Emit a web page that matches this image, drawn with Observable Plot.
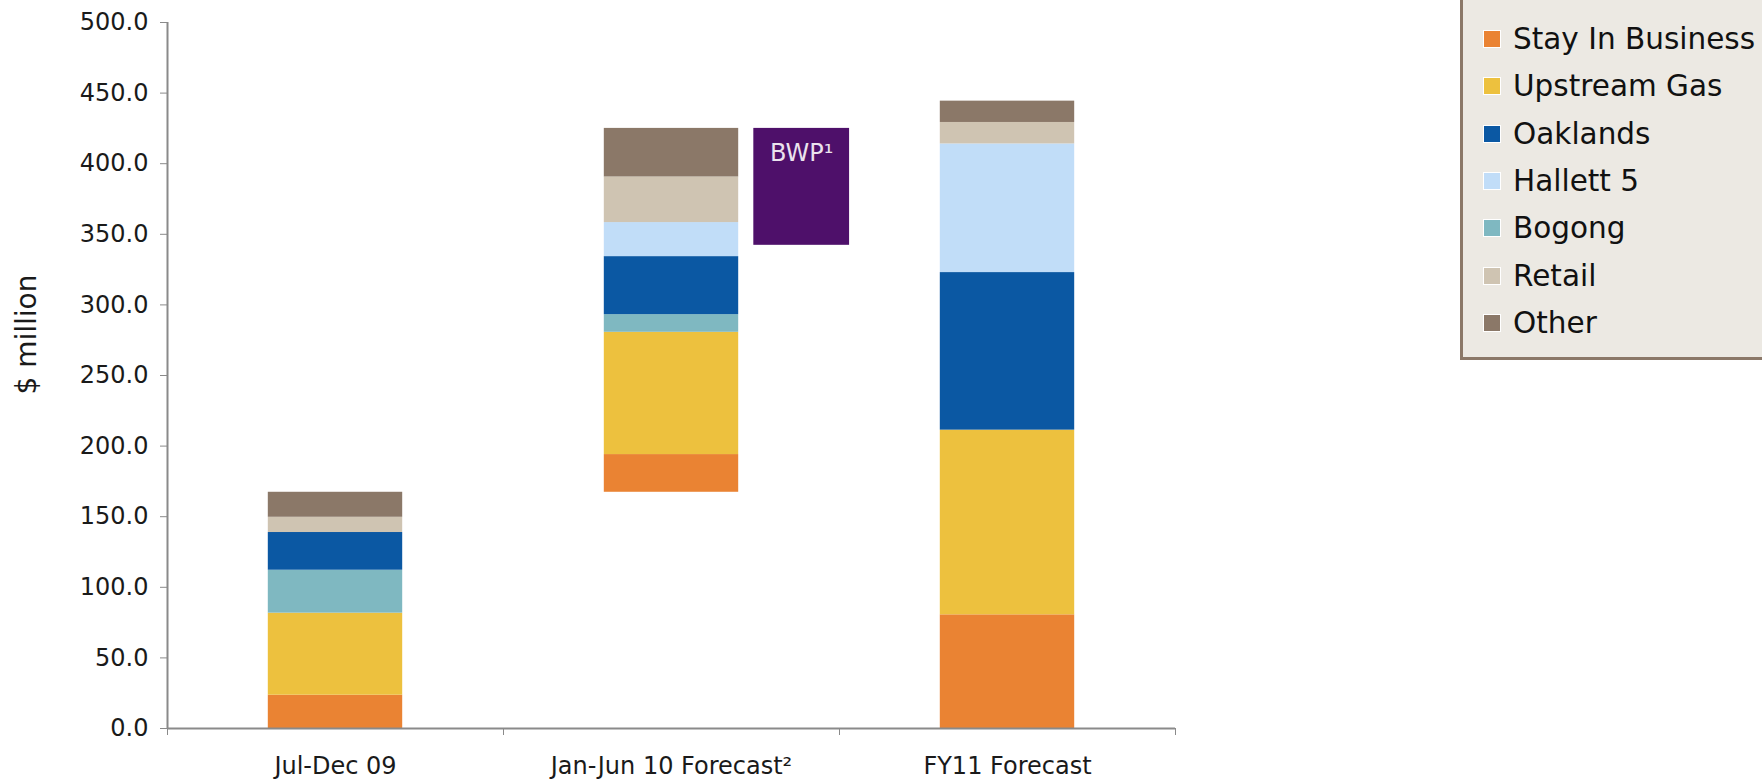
<!DOCTYPE html>
<html>
<head>
<meta charset="utf-8">
<script src="https://cdn.jsdelivr.net/npm/d3@7"></script>
<script src="https://cdn.jsdelivr.net/npm/@observablehq/plot@0.6"></script>
<style>
  html, body { margin: 0; padding: 0; background: #ffffff; }
  #wrap { position: relative; width: 1762px; height: 782px; overflow: hidden; font-family: "DejaVu Sans", sans-serif; }
  #legend {
    position: absolute; left: 1460px; top: -10px; width: 330px; height: 370px;
    background: #ece9e3; border: 3px solid #8b7868; box-sizing: border-box;
  }
  .item { position: absolute; left: 20px; height: 30px; display: flex; align-items: center; font-size: 29.5px; color: #111; white-space: nowrap; }
  .sw { width: 18px; height: 18px; margin-right: 12px; border: 1px solid #fff; box-sizing: border-box; }
</style>
</head>
<body>
<div id="wrap"><div id="chart"></div><div id="legend"></div></div>
<script>
// ---- data ----
const categories = ["Jul-Dec 09", "Jan-Jun 10 Forecast\u00B2", "FY11 Forecast"];
const stackOrder = ["Stay In Business", "Upstream Gas", "Bogong", "Oaklands", "Hallett 5", "Retail", "Other"];
const legendOrder = ["Stay In Business", "Upstream Gas", "Oaklands", "Hallett 5", "Bogong", "Retail", "Other"];
const stayInBusiness = [23.6, 26.7, 80.5];
const upstreamGas    = [58.1, 86.6, 130.8];
const bogong         = [30.4, 12.5, 0];
const oaklands       = [26.7, 41.1, 111.6];
const hallett5       = [0, 24.1, 91.1];
const retail         = [10.8, 32.3, 15.2];
const other          = [17.7, 34.4, 15.1];
const bwpLabel = "BWP\u00B9";
const bwpValue = 82.8;          // reduction shown next to the Jan-Jun 10 bar
const yTicks = [0, 50, 100, 150, 200, 250, 300, 350, 400, 450, 500];

const seriesValues = {
  "Stay In Business": stayInBusiness, "Upstream Gas": upstreamGas, "Bogong": bogong,
  "Oaklands": oaklands, "Hallett 5": hallett5, "Retail": retail, "Other": other
};
const colors = {
  "Stay In Business": "#ea8333", "Upstream Gas": "#edc13e", "Oaklands": "#0b58a3",
  "Hallett 5": "#c1ddf8", "Bogong": "#7fb8c1", "Retail": "#cfc4b2", "Other": "#8b7868"
};

// ---- build waterfall-stacked rows ----
const barW = 0.4;               // fraction of each category slot
const rows = [];
const tops = [];
categories.forEach((c, i) => {
  // second column continues from the end of the first (waterfall)
  let y = i === 1 ? tops[0] : 0;
  for (const s of stackOrder) {
    const v = seriesValues[s][i];
    if (v > 0) rows.push({cat: c, series: s, x1: i + (1 - barW) / 2, x2: i + (1 + barW) / 2, y1: y, y2: y + v});
    y += v;
  }
  tops.push(y);
});
const bwpRow = {x1: 1.745, x2: 2.03, y1: tops[1] - bwpValue, y2: tops[1]};

const plot = Plot.plot({
  width: 1762, height: 782,
  marginLeft: 167, marginRight: 587, marginTop: 22, marginBottom: 54,
  style: {fontFamily: "DejaVu Sans, sans-serif", fontSize: "24px", color: "#1a1a1a", background: "transparent"},
  x: {type: "linear", domain: [0, categories.length]},
  y: {domain: [0, 500]},
  marks: [
    Plot.rect(rows, {x1: "x1", x2: "x2", y1: "y1", y2: "y2", fill: d => colors[d.series]}),
    Plot.rect([bwpRow], {x1: "x1", x2: "x2", y1: "y1", y2: "y2", fill: "#4e106a"}),
    Plot.text([bwpRow], {x: d => (d.x1 + d.x2) / 2, y: "y2", text: () => bwpLabel, dy: 25, fill: "#ebe3ee", fontSize: 24}),
    Plot.axisY({ticks: yTicks, tickFormat: d3.format(".1f"), tickSize: 7, tickPadding: 12, stroke: "#8a8a8a", fill: "#1a1a1a", fontSize: 24, label: null}),
    Plot.axisX({ticks: d3.range(categories.length + 1), tickFormat: () => "", tickSize: 7, stroke: "#8a8a8a", label: null}),
    Plot.axisX({ticks: categories.map((c, i) => i + 0.5), tickFormat: d => categories[Math.floor(d)], tickSize: 0, tickPadding: 28, fill: "#1a1a1a", fontSize: 24, label: null}),
    Plot.ruleX([0], {stroke: "#8a8a8a", strokeWidth: 2}),
    Plot.ruleY([0], {stroke: "#8a8a8a", strokeWidth: 2}),
    Plot.text(["$ million"], {frameAnchor: "left", textAnchor: "middle", y: 279, dx: -140, rotate: -90, fontSize: 28, fill: "#1a1a1a"})
  ]
});
document.getElementById("chart").appendChild(plot);

// ---- legend ----
const legend = document.getElementById("legend");
legendOrder.forEach((s, i) => {
  const it = document.createElement("div");
  it.className = "item";
  it.style.top = (39 + i * 47.3 - 15 + 7) + "px";
  it.innerHTML = `<span class="sw" style="background:${colors[s]}"></span><span>${s}</span>`;
  legend.appendChild(it);
});
</script>
</body>
</html>
